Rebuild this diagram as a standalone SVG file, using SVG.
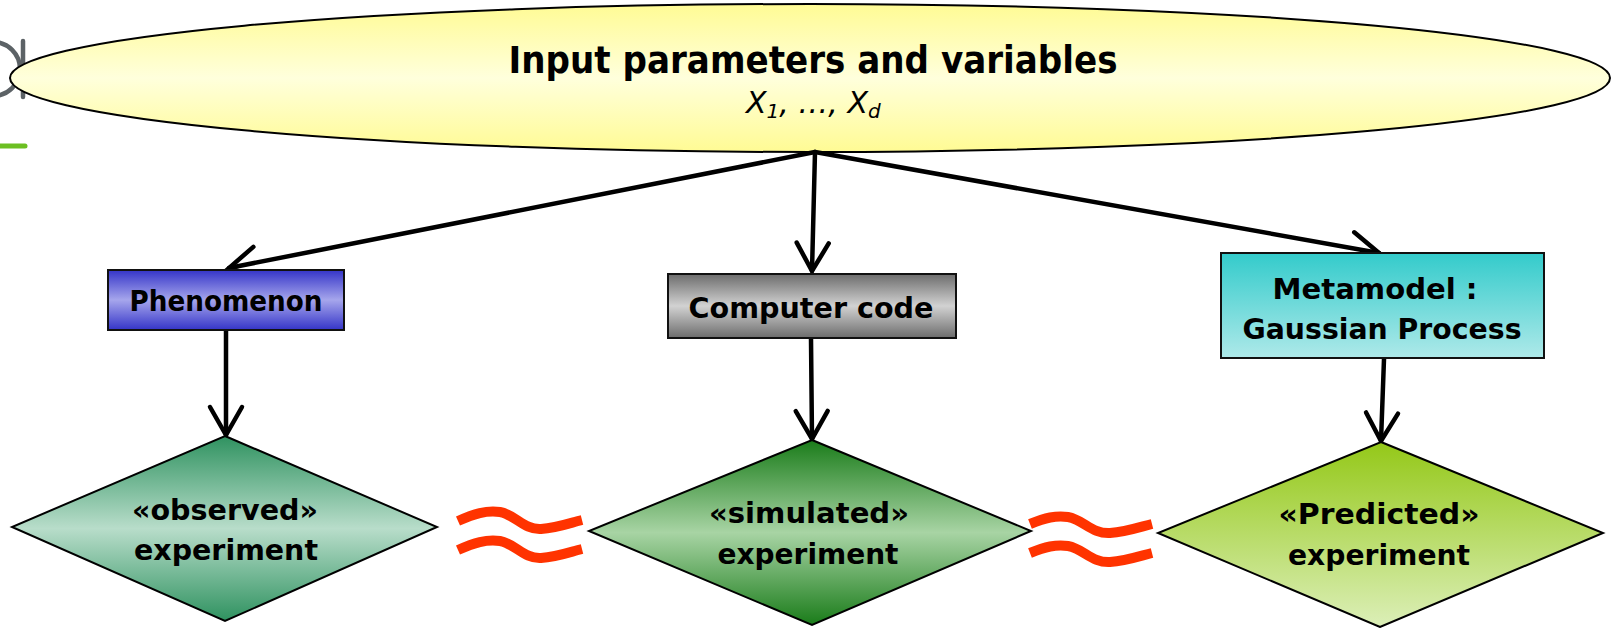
<svg xmlns="http://www.w3.org/2000/svg" width="1612" height="628" viewBox="0 0 1612 628">
  <defs>
    <linearGradient id="gEllipse" x1="0" y1="0" x2="0" y2="1">
      <stop offset="0" stop-color="#fffb94"/>
      <stop offset="0.5" stop-color="#ffffdc"/>
      <stop offset="1" stop-color="#fffb94"/>
    </linearGradient>
    <linearGradient id="gBlue" x1="0" y1="0" x2="0" y2="1">
      <stop offset="0" stop-color="#3434c8"/>
      <stop offset="0.5" stop-color="#a6a6ec"/>
      <stop offset="1" stop-color="#3434c8"/>
    </linearGradient>
    <linearGradient id="gGray" x1="0" y1="0" x2="0" y2="1">
      <stop offset="0" stop-color="#6c6c6c"/>
      <stop offset="0.5" stop-color="#d2d2d2"/>
      <stop offset="1" stop-color="#6c6c6c"/>
    </linearGradient>
    <linearGradient id="gTeal" x1="0" y1="0" x2="0" y2="1">
      <stop offset="0" stop-color="#33cbcb"/>
      <stop offset="1" stop-color="#aee9e9"/>
    </linearGradient>
    <linearGradient id="gObserved" x1="0" y1="0" x2="0" y2="1">
      <stop offset="0" stop-color="#2f9260"/>
      <stop offset="0.5" stop-color="#b8ddca"/>
      <stop offset="1" stop-color="#2f9260"/>
    </linearGradient>
    <linearGradient id="gSimulated" x1="0" y1="0" x2="0" y2="1">
      <stop offset="0" stop-color="#1a7c1a"/>
      <stop offset="0.5" stop-color="#a8d4a4"/>
      <stop offset="1" stop-color="#1a7c1a"/>
    </linearGradient>
    <linearGradient id="gPredicted" x1="0" y1="0" x2="0" y2="1">
      <stop offset="0" stop-color="#94c818"/>
      <stop offset="1" stop-color="#dcefb8"/>
    </linearGradient>
    <marker id="chevron" markerUnits="userSpaceOnUse" markerWidth="40" markerHeight="40" viewBox="-34 -20 40 40" refX="0" refY="0" orient="auto" overflow="visible">
      <path d="M-28,-16 L0,0 L-28,16" fill="none" stroke="#000" stroke-width="4.5" stroke-linecap="round" stroke-linejoin="miter"/>
    </marker>
  </defs>
  <style>
    .lbl { font-family: "Comic Sans MS", "DejaVu Sans", sans-serif; font-weight: bold; fill: #000; text-anchor: middle; }
    .box { stroke: #111; stroke-width: 2; }
    .dia { stroke: #000; stroke-width: 2; stroke-linejoin: miter; }
    .conn { fill: none; stroke: #000; stroke-width: 4.5; stroke-linecap: round; marker-end: url(#chevron); }
    .approx { fill: none; stroke: #ff3300; stroke-width: 10; stroke-linecap: butt; }
  </style>

  <rect width="1612" height="628" fill="#ffffff"/>

  <!-- logo fragment at the left slide edge -->
  <g id="logo">
    <circle cx="-7" cy="69" r="27" fill="none" stroke="#5c6266" stroke-width="4.5"/>
    <line x1="23" y1="41" x2="23" y2="97" stroke="#5c6266" stroke-width="4.5" stroke-linecap="round"/>
    <line x1="-4" y1="146" x2="25" y2="146" stroke="#6cbf22" stroke-width="5" stroke-linecap="round"/>
  </g>

  <g id="inputs">
    <ellipse cx="810" cy="78" rx="800" ry="74" fill="url(#gEllipse)" stroke="#000" stroke-width="2"/>
    <text class="lbl" x="813" y="73" font-size="37" textLength="609" lengthAdjust="spacingAndGlyphs">Input parameters and variables</text>
    <text x="746" y="113" font-family="&quot;Comic Sans MS&quot;, &quot;DejaVu Sans&quot;, sans-serif" font-style="italic" font-size="30" fill="#000">X<tspan font-size="20" dy="5">1</tspan><tspan dy="-5">, …, X</tspan><tspan font-size="20" dy="5">d</tspan></text>
  </g>

  <g id="connectors">
    <line class="conn" x1="815" y1="152" x2="229" y2="268"/>
    <line class="conn" x1="815" y1="152" x2="812" y2="271"/>
    <line class="conn" x1="815" y1="152" x2="1379" y2="253"/>
    <line class="conn" x1="226" y1="331" x2="226" y2="435"/>
    <line class="conn" x1="811" y1="339" x2="812" y2="439"/>
    <line class="conn" x1="1384" y1="359" x2="1381" y2="441"/>
  </g>

  <g id="phenomenon">
    <rect class="box" x="108" y="270" width="236" height="60" fill="url(#gBlue)"/>
    <text class="lbl" x="226" y="311" font-size="29" textLength="193" lengthAdjust="spacingAndGlyphs">Phenomenon</text>
  </g>

  <g id="computer-code">
    <rect class="box" x="668" y="274" width="288" height="64" fill="url(#gGray)"/>
    <text class="lbl" x="811" y="318" font-size="29" textLength="245" lengthAdjust="spacingAndGlyphs">Computer code</text>
  </g>

  <g id="metamodel">
    <rect class="box" x="1221" y="253" width="323" height="105" fill="url(#gTeal)"/>
    <text class="lbl" x="1375" y="299" font-size="29" textLength="205" lengthAdjust="spacingAndGlyphs">Metamodel :</text>
    <text class="lbl" x="1382" y="339" font-size="29" textLength="279" lengthAdjust="spacingAndGlyphs">Gaussian Process</text>
  </g>

  <g id="observed">
    <polygon class="dia" points="225,436 437,527 225,621 12,527" fill="url(#gObserved)"/>
    <text class="lbl" x="225" y="520" font-size="28" textLength="186" lengthAdjust="spacingAndGlyphs">«observed»</text>
    <text class="lbl" x="226" y="560" font-size="28" textLength="184" lengthAdjust="spacingAndGlyphs">experiment</text>
  </g>

  <g id="simulated">
    <polygon class="dia" points="812,440 1031,531 812,625 589,531" fill="url(#gSimulated)"/>
    <text class="lbl" x="809" y="523" font-size="28" textLength="200" lengthAdjust="spacingAndGlyphs">«simulated»</text>
    <text class="lbl" x="808" y="564" font-size="28" textLength="181" lengthAdjust="spacingAndGlyphs">experiment</text>
  </g>

  <g id="predicted">
    <polygon class="dia" points="1381,442 1603,533 1380,627 1158,533" fill="url(#gPredicted)"/>
    <text class="lbl" x="1379" y="524" font-size="28" textLength="201" lengthAdjust="spacingAndGlyphs">«Predicted»</text>
    <text class="lbl" x="1379" y="565" font-size="28" textLength="182" lengthAdjust="spacingAndGlyphs">experiment</text>
  </g>

  <!-- approximately-equal signs between the experiments -->
  <g id="approx-1">
    <path class="approx" d="M458,521 C474,514 486,510 500,512 C516,515 524,530 541,529 C557,528 570,523 582,520"/>
    <path class="approx" d="M458,550 C474,543 486,539 500,541 C516,544 524,559 541,558 C557,557 570,552 582,549"/>
  </g>
  <g id="approx-2">
    <path class="approx" d="M1030,524 C1045,518 1056,515 1068,517 C1084,520 1092,534 1110,533 C1126,532 1140,527 1152,524"/>
    <path class="approx" d="M1030,553 C1045,547 1056,544 1068,546 C1084,549 1092,563 1110,562 C1126,561 1140,556 1152,553"/>
  </g>
</svg>
